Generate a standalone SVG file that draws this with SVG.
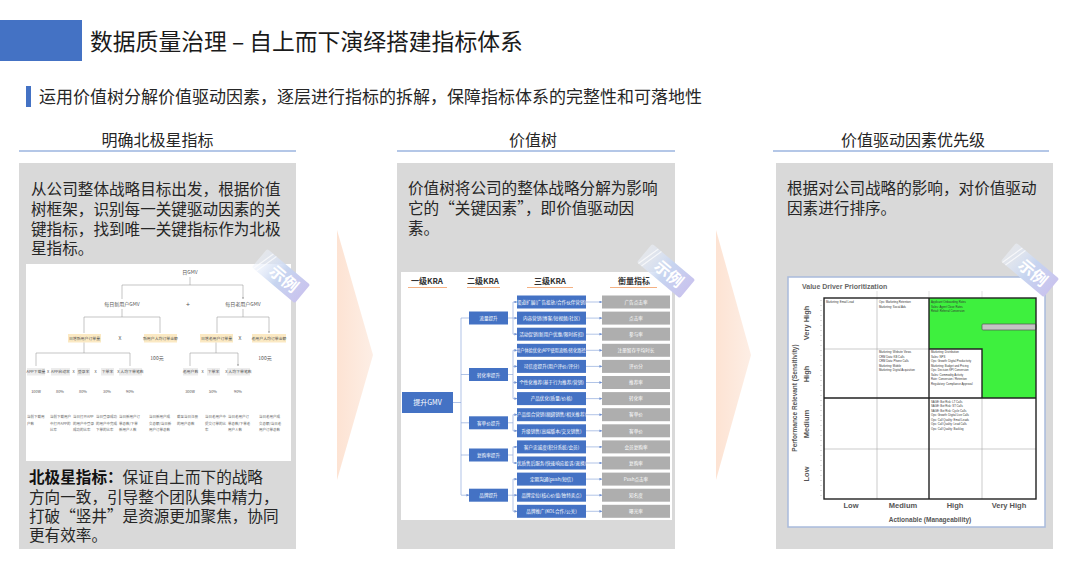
<svg xmlns="http://www.w3.org/2000/svg" width="1080" height="582" viewBox="0 0 1080 582">
<style>
text{font-family:"Noto Sans CJK SC","Noto Sans",sans-serif;fill:#262626}
.hd{font-size:16px;text-anchor:middle}
.body{font-size:15.6px}
.panel{fill:#d9d9d9}
.uline{stroke:#b4c7e7;stroke-width:2}
.t5{font-size:5px;text-anchor:middle;fill:#555}
.f{font-size:3.9px;text-anchor:middle;fill:#555}
.t4{font-size:3.5px;fill:#666}
.ln{stroke:#a0a0a0;stroke-width:0.6;fill:none}
.k1{font-size:8px;font-weight:bold;text-anchor:middle;fill:#333}
.kb{fill:#4472c4}
.kt{font-size:4.6px;fill:#fff;text-anchor:middle}
.mb{fill:#aeaeae}
.bl{stroke:#8faadc;stroke-width:0.7;fill:none}
.en{font-family:"Liberation Sans",Arial,sans-serif;font-weight:bold;fill:#555}
.ct{font-family:"Liberation Sans",Arial,sans-serif;font-size:2.8px;fill:#333}
.thin{stroke:#aaa;stroke-width:0.6}
.thick{stroke:#222;stroke-width:1.4;fill:none}
</style>
<defs>
<linearGradient id="arr" x1="0" y1="0" x2="1" y2="0">
<stop offset="0" stop-color="#fde3d3"/>
<stop offset="1" stop-color="#fdeee5"/>
</linearGradient>
<linearGradient id="bg" x1="0" y1="0" x2="1" y2="0">
<stop offset="0" stop-color="#eef3fc" stop-opacity="0.5"/>
<stop offset="0.5" stop-color="#c7d5f0"/>
<stop offset="1" stop-color="#c9c4ee"/>
</linearGradient>
<marker id="ah" viewBox="0 0 6 6" refX="5.5" refY="3" markerWidth="4" markerHeight="4" orient="auto">
<path d="M0,0 L6,3 L0,6 z" fill="#6f8fcf"/>
</marker>
<marker id="ag" viewBox="0 0 6 6" refX="5.5" refY="3" markerWidth="3" markerHeight="3" orient="auto">
<path d="M0,0 L6,3 L0,6 z" fill="#999"/>
</marker>
<g id="badge">
<rect x="-28" y="-12" width="56" height="24" rx="2" fill="url(#bg)"/>
<path d="M-20,-12 L-26,12 M-16,-12 L-22,12" stroke="#fff" stroke-width="1.2" opacity="0.7"/>
<text x="4" y="6" style="font-size:16px;fill:#fff;text-anchor:middle;font-weight:bold">示例</text>
</g>
</defs>

<rect width="1080" height="582" fill="#fff"/>

<g id="title">
<rect x="0" y="20" width="82" height="41" fill="#4472c4"/>
<text x="90" y="50" style="font-size:22.8px;fill:#1a1a1a">数据质量治理 – 自上而下演绎搭建指标体系</text>
</g>
<g id="subtitle">
<rect x="26" y="86" width="5" height="21" fill="#4472c4"/>
<text x="39" y="103" style="font-size:17px">运用价值树分解价值驱动因素，逐层进行指标的拆解，保障指标体系的完整性和可落地性</text>
</g>

<g id="h1"><text class="hd" x="157.5" y="146">明确北极星指标</text><line class="uline" x1="19" y1="151" x2="296" y2="151"/></g>
<g id="h2"><text class="hd" x="533" y="146">价值树</text><line class="uline" x1="397" y1="151" x2="675" y2="151"/></g>
<g id="h3"><text class="hd" x="913" y="146">价值驱动因素优先级</text><line class="uline" x1="773" y1="151" x2="1049" y2="151"/></g>

<g id="arrows">
<polygon points="337,230 373,355 337,480" fill="url(#arr)"/>
<polygon points="716,230 751,355 716,480" fill="url(#arr)"/>
</g>

<g id="panel-left">
<rect class="panel" x="19" y="163" width="277" height="386"/>
<text class="body" x="31" y="195">从公司整体战略目标出发，根据价值</text>
<text class="body" x="31" y="215">树框架，识别每一关键驱动因素的关</text>
<text class="body" x="31" y="234.5">键指标，找到唯一关键指标作为北极</text>
<text class="body" x="31" y="254">星指标。</text>
<rect x="26" y="264" width="265" height="197" fill="#fff"/>
<g id="gmv-tree">
<text class="t5" x="190" y="274">日GMV</text>
<path class="ln" d="M190,277 V285 M122,285 H243"/>
<path class="ln" d="M122,285 V299 M243,285 V299" marker-end="url(#ag)"/>
<text class="t5" x="122" y="306">每日新用户GMV</text>
<text class="t5" x="188" y="307" style="font-size:7px">+</text>
<text class="t5" x="243" y="306">每日老用户GMV</text>
<path class="ln" d="M122,309 V317 M84,317 H160 M243,309 V317 M217,317 H269"/>
<path class="ln" d="M84,317 V333 M160,317 V333 M217,317 V333 M269,317 V333" marker-end="url(#ag)"/>
<rect x="68" y="334" width="33" height="8.5" fill="#fbe9c3"/>
<rect x="144" y="334" width="33" height="8.5" fill="#fbe9c3"/>
<rect x="200" y="334" width="33" height="8.5" fill="#fbe9c3"/>
<rect x="252" y="334" width="34" height="8.5" fill="#fbe9c3"/>
<text class="f" x="84.5" y="340">日增新用户订单量</text>
<text class="t5" x="120" y="340">X</text>
<text class="f" x="160.5" y="340">新用户人均订单金额</text>
<text class="f" x="216.5" y="340">日增老用户订单量</text>
<text class="t5" x="240" y="340">X</text>
<text class="f" x="269" y="340">老用户人均订单金额</text>
<text class="t5" x="157" y="360">100元</text>
<text class="t5" x="265" y="360">100元</text>
<path class="ln" d="M84,342.5 V353 M36,353 H130 M216,342.5 V353 M190,353 H238"/>
<path class="ln" d="M36,353 V366 M130,353 V366 M190,353 V366 M238,353 V366" marker-end="url(#ag)"/>
<rect x="27" y="368" width="18" height="7.5" fill="#ececec"/>
<rect x="51" y="368" width="19" height="7.5" fill="#ececec"/>
<rect x="77" y="368" width="13" height="7.5" fill="#ececec"/>
<rect x="101" y="368" width="13" height="7.5" fill="#ececec"/>
<rect x="119" y="368" width="23" height="7.5" fill="#ececec"/>
<rect x="183" y="368" width="15" height="7.5" fill="#ececec"/>
<rect x="207" y="368" width="13" height="7.5" fill="#ececec"/>
<rect x="227" y="368" width="23" height="7.5" fill="#ececec"/>
<text class="f" x="36" y="373.3">APP下载量</text>
<text class="f" x="48" y="373.3">X</text>
<text class="f" x="60.5" y="373.3">APP启动率</text>
<text class="f" x="73.5" y="373.3">X</text>
<text class="f" x="83.5" y="373.3">登录率</text>
<text class="f" x="95.5" y="373.3">X</text>
<text class="f" x="107.5" y="373.3">下单率</text>
<text class="f" x="130.5" y="373.3">X 人均下单笔数</text>
<text class="f" x="190.5" y="373.3">老用户数</text>
<text class="f" x="202.5" y="373.3">X</text>
<text class="f" x="213.5" y="373.3">下单率</text>
<text class="f" x="238.5" y="373.3">X 人均下单笔数</text>
<text class="f" x="36" y="393">100w</text>
<text class="f" x="60" y="393">80%</text>
<text class="f" x="83" y="393">80%</text>
<text class="f" x="107" y="393">30%</text>
<text class="f" x="130" y="393">90%</text>
<text class="f" x="190" y="393">300w</text>
<text class="f" x="213" y="393">50%</text>
<text class="f" x="238" y="393">90%</text>
<text class="t4" x="27" y="418">当前下载用</text><text class="t4" x="27" y="424.5">户数</text>
<text class="t4" x="50" y="418">当前下载用户</text><text class="t4" x="50" y="424.5">中打开APP的</text><text class="t4" x="50" y="431">比率</text>
<text class="t4" x="73" y="418">当日打开APP</text><text class="t4" x="73" y="424.5">的用户中登录</text><text class="t4" x="73" y="431">成功的比率</text>
<text class="t4" x="96" y="418">当日登录成功</text><text class="t4" x="96" y="424.5">的用户中完成</text><text class="t4" x="96" y="431">下单的比率</text>
<text class="t4" x="119" y="418">当日新用户订</text><text class="t4" x="119" y="424.5">单总数/下单</text><text class="t4" x="119" y="431">新用户人数</text>
<text class="t4" x="149" y="418">当日新用户成</text><text class="t4" x="149" y="424.5">交总额/当日新</text><text class="t4" x="149" y="431">用户订单总数</text>
<text class="t4" x="177" y="418">截至当日注册</text><text class="t4" x="177" y="424.5">的用户总数</text>
<text class="t4" x="205" y="418">当日老用户中</text><text class="t4" x="205" y="424.5">提交订单的比</text><text class="t4" x="205" y="431">率</text>
<text class="t4" x="228" y="418">当日老用户订</text><text class="t4" x="228" y="424.5">单总数/下单老</text><text class="t4" x="228" y="431">用户人数</text>
<text class="t4" x="259" y="418">当日老用户成</text><text class="t4" x="259" y="424.5">交总额/当日老</text><text class="t4" x="259" y="431">用户订单总数</text>
</g>
<text class="body" x="29" y="483"><tspan font-weight="bold" fill="#111">北极星指标：</tspan>保证自上而下的战略</text>
<text class="body" x="29" y="502.5">方向一致，引导整个团队集中精力，</text>
<text class="body" x="29" y="521.5">打破“竖井”是资源更加聚焦，协同</text>
<text class="body" x="29" y="540.5">更有效率。</text>
<use href="#badge" transform="translate(281,276) rotate(40)"/>
</g>

<g id="panel-middle">
<rect class="panel" x="397" y="163" width="278" height="386"/>
<text class="body" x="408" y="194">价值树将公司的整体战略分解为影响</text>
<text class="body" x="408" y="214">它的“关键因素”，即价值驱动因</text>
<text class="body" x="408" y="234">素。</text>
<rect x="401" y="272" width="271" height="248" fill="#fff"/>
<g id="kra-headers">
<text class="k1" x="427" y="284">一级KRA</text>
<text class="k1" x="483" y="284">二级KRA</text>
<text class="k1" x="550" y="284">三级KRA</text>
<text class="k1" x="634" y="284">衡量指标</text>
<path d="M408,287.5 H447 M467,287.5 H500 M527,287.5 H573 M610,287.5 H657" stroke="#f4b183" stroke-width="1"/>
</g>
<g id="kra-connectors">
<path class="bl" d="M453,402.5 H461 M461,318 V495"/>
<path class="bl" d="M461,318 H469 M461,374.5 H469 M461,422.8 H469 M461,455 H469 M461,495.2 H469" marker-end="url(#ah)"/>
<path class="bl" d="M508,318 H513 M513,302 V334.2 M508,374.5 H513 M513,350.3 V398.6 M508,422.8 H513 M513,414.7 V430.8 M508,455 H513 M513,446.9 V463 M508,495.2 H513 M513,479.1 V511.3"/>
<g marker-end="url(#ah)">
<path class="bl" d="M513,302 H517"/><path class="bl" d="M513,318.1 H517"/><path class="bl" d="M513,334.2 H517"/>
<path class="bl" d="M513,350.3 H517"/><path class="bl" d="M513,366.4 H517"/><path class="bl" d="M513,382.5 H517"/><path class="bl" d="M513,398.6 H517"/>
<path class="bl" d="M513,414.7 H517"/><path class="bl" d="M513,430.8 H517"/>
<path class="bl" d="M513,446.9 H517"/><path class="bl" d="M513,463 H517"/>
<path class="bl" d="M513,479.1 H517"/><path class="bl" d="M513,495.2 H517"/><path class="bl" d="M513,511.3 H517"/>
<path class="bl" d="M586,302 H602"/><path class="bl" d="M586,318.1 H602"/><path class="bl" d="M586,334.2 H602"/>
<path class="bl" d="M586,350.3 H602"/><path class="bl" d="M586,366.4 H602"/><path class="bl" d="M586,382.5 H602"/><path class="bl" d="M586,398.6 H602"/>
<path class="bl" d="M586,414.7 H602"/><path class="bl" d="M586,430.8 H602"/>
<path class="bl" d="M586,446.9 H602"/><path class="bl" d="M586,463 H602"/>
<path class="bl" d="M586,479.1 H602"/><path class="bl" d="M586,495.2 H602"/><path class="bl" d="M586,511.3 H602"/>
</g>
</g>
<g id="kra-l1">
<rect class="kb" x="402" y="392" width="51" height="21"/>
<text class="kt" x="427.5" y="405" style="font-size:7px">提升GMV</text>
</g>
<g id="kra-l2">
<rect class="kb" x="469" y="311.5" width="39" height="13"/><text class="kt" x="488.5" y="320">流量提升</text>
<rect class="kb" x="469" y="368" width="39" height="13"/><text class="kt" x="488.5" y="376.5">转化率提升</text>
<rect class="kb" x="469" y="416.3" width="39" height="13"/><text class="kt" x="488.5" y="424.8">客单价提升</text>
<rect class="kb" x="469" y="448.5" width="39" height="13"/><text class="kt" x="488.5" y="457">复购率提升</text>
<rect class="kb" x="469" y="488.7" width="39" height="13"/><text class="kt" x="488.5" y="497.2">品牌提升</text>
</g>
<g id="kra-l3">
<rect class="kb" x="517" y="295.5" width="69" height="13"/><text class="kt" x="551.5" y="303.7">渠道扩展(广告投放/合作伙伴营销)</text>
<rect class="kb" x="517" y="311.6" width="69" height="13"/><text class="kt" x="551.5" y="319.8">内容营销(博客/短视频/社区)</text>
<rect class="kb" x="517" y="327.7" width="69" height="13"/><text class="kt" x="551.5" y="335.9">活动促销(新用户优惠/限时折扣)</text>
<rect class="kb" x="517" y="343.8" width="69" height="13"/><text class="kt" x="551.5" y="352" style="font-size:4.2px">用户体验优化(APP使用流畅/转化路径)</text>
<rect class="kb" x="517" y="359.9" width="69" height="13"/><text class="kt" x="551.5" y="368.1">可信度提升(用户评价/评分)</text>
<rect class="kb" x="517" y="376" width="69" height="13"/><text class="kt" x="551.5" y="384.2">个性化推荐(基于行为推荐/营销)</text>
<rect class="kb" x="517" y="392.1" width="69" height="13"/><text class="kt" x="551.5" y="400.3">产品优化(质量/价格)</text>
<rect class="kb" x="517" y="408.2" width="69" height="13"/><text class="kt" x="551.5" y="416.4">产品组合营销(捆绑销售/相关推荐)</text>
<rect class="kb" x="517" y="424.3" width="69" height="13"/><text class="kt" x="551.5" y="432.5">升级销售(高端版本/交叉销售)</text>
<rect class="kb" x="517" y="440.4" width="69" height="13"/><text class="kt" x="551.5" y="448.6">客户忠诚度(积分系统/会员)</text>
<rect class="kb" x="517" y="456.5" width="69" height="13"/><text class="kt" x="551.5" y="464.7">优质售后服务(快速响应投诉/退换)</text>
<rect class="kb" x="517" y="472.6" width="69" height="13"/><text class="kt" x="551.5" y="480.8">定期沟通(push/短信)</text>
<rect class="kb" x="517" y="488.7" width="69" height="13"/><text class="kt" x="551.5" y="496.9">品牌定位(核心价值/独特卖点)</text>
<rect class="kb" x="517" y="504.8" width="69" height="13"/><text class="kt" x="551.5" y="513">品牌推广(KOL合作/公关)</text>
</g>
<g id="kra-metrics">
<rect class="mb" x="602" y="295.5" width="68" height="13"/><text class="kt" x="636" y="303.7">广告点击率</text>
<rect class="mb" x="602" y="311.6" width="68" height="13"/><text class="kt" x="636" y="319.8">点击率</text>
<rect class="mb" x="602" y="327.7" width="68" height="13"/><text class="kt" x="636" y="335.9">参与率</text>
<rect class="mb" x="602" y="343.8" width="68" height="13"/><text class="kt" x="636" y="352">注册留存平均时长</text>
<rect class="mb" x="602" y="359.9" width="68" height="13"/><text class="kt" x="636" y="368.1">评价分</text>
<rect class="mb" x="602" y="376" width="68" height="13"/><text class="kt" x="636" y="384.2">推荐率</text>
<rect class="mb" x="602" y="392.1" width="68" height="13"/><text class="kt" x="636" y="400.3">转化率</text>
<rect class="mb" x="602" y="408.2" width="68" height="13"/><text class="kt" x="636" y="416.4">客单价</text>
<rect class="mb" x="602" y="424.3" width="68" height="13"/><text class="kt" x="636" y="432.5">客单价</text>
<rect class="mb" x="602" y="440.4" width="68" height="13"/><text class="kt" x="636" y="448.6">会员复购率</text>
<rect class="mb" x="602" y="456.5" width="68" height="13"/><text class="kt" x="636" y="464.7">复购率</text>
<rect class="mb" x="602" y="472.6" width="68" height="13"/><text class="kt" x="636" y="480.8">Push点击率</text>
<rect class="mb" x="602" y="488.7" width="68" height="13"/><text class="kt" x="636" y="496.9">知名度</text>
<rect class="mb" x="602" y="504.8" width="68" height="13"/><text class="kt" x="636" y="513">曝光率</text>
</g>
<use href="#badge" transform="translate(666,271) rotate(40)"/>
</g>

<g id="panel-right">
<rect class="panel" x="776" y="163" width="277" height="386"/>
<text class="body" x="787" y="194">根据对公司战略的影响，对价值驱动</text>
<text class="body" x="787" y="213.5">因素进行排序。</text>
<rect x="788" y="277" width="257" height="250" fill="#fff" stroke="#a9bbdc" stroke-width="1.5"/>
<g id="matrix">
<text class="en" x="802" y="289" style="font-size:7px;fill:#666">Value Driver Prioritization</text>
<path d="M877,291 V298 M929,291 V298 M982,291 V298" stroke="#ccc" stroke-width="0.6"/>
<line x1="821" y1="300" x2="821" y2="497" stroke="#aaa" stroke-width="1.5" stroke-dasharray="0.6 4.4"/>
<path d="M929,298 H1036 V398 H982 V349 H929 Z" fill="#3ef03e"/>
<path class="thin" d="M824,349 H929 M824,449 H1036 M877,298 V499 M982,398 V499"/>
<rect x="982" y="324" width="54" height="6" rx="1" fill="#c4c4c4" stroke="#555" stroke-width="0.7"/>
<rect class="thick" x="824" y="298" width="212" height="201"/>
<path class="thick" d="M824,398 H1036 M929,298 V499 M929,349 H982 V398"/>
<g id="cells">
<text class="ct" x="826" y="303">Marketing: Email Lead</text>
<text class="ct" x="879" y="303">Ops: Marketing Retention</text>
<text class="ct" x="879" y="307.5">Marketing: Social Ads</text>
<text class="ct" x="931" y="303">Applicant Onboarding Rates</text>
<text class="ct" x="931" y="307.5">Sales: Agent Close Rates</text>
<text class="ct" x="931" y="312">Retail: Referral Conversion</text>
<text class="ct" x="879" y="353">Marketing: Website Views</text>
<text class="ct" x="879" y="357.5">CRM Data: KB Calls</text>
<text class="ct" x="879" y="362">CRM Data: Phone Calls</text>
<text class="ct" x="879" y="366.5">Marketing: Mobile</text>
<text class="ct" x="879" y="371">Marketing: Digital Acquisition</text>
<text class="ct" x="931" y="353">Marketing: Distribution</text>
<text class="ct" x="931" y="357.5">Sales: NPS</text>
<text class="ct" x="931" y="362">Ops: Growth: Digital Productivity</text>
<text class="ct" x="931" y="366.5">Marketing: Budget and Pricing</text>
<text class="ct" x="931" y="371">Ops: Decision KPI Conversion</text>
<text class="ct" x="931" y="375.5">Sales: Commodity Activity</text>
<text class="ct" x="931" y="380">Rate: Conversion / Retention</text>
<text class="ct" x="931" y="384.5">Regulatory: Compliance Approval</text>
<text class="ct" x="931" y="402.5">SAGE: Bot Risk: LT Calls</text>
<text class="ct" x="931" y="407">SAGE: Bot Risk: ST Calls</text>
<text class="ct" x="931" y="411.5">SAGE: Bot Risk: Cycle Calls</text>
<text class="ct" x="931" y="416">Ops: Growth: Digital Live Calls</text>
<text class="ct" x="931" y="420.5">Ops: Call Quality: Email Leads</text>
<text class="ct" x="931" y="425">Ops: Call Quality: Lead Calls</text>
<text class="ct" x="931" y="429.5">Ops: Call Quality: Backlog</text>
</g>
<text class="en" transform="translate(809,323) rotate(-90)" text-anchor="middle" style="font-size:7.5px">Very High</text>
<text class="en" transform="translate(809,374) rotate(-90)" text-anchor="middle" style="font-size:7.5px">High</text>
<text class="en" transform="translate(809,424) rotate(-90)" text-anchor="middle" style="font-size:7.5px">Medium</text>
<text class="en" transform="translate(809,474) rotate(-90)" text-anchor="middle" style="font-size:7.5px">Low</text>
<text class="en" x="851" y="508" text-anchor="middle" style="font-size:7.5px">Low</text>
<text class="en" x="903" y="508" text-anchor="middle" style="font-size:7.5px">Medium</text>
<text class="en" x="955" y="508" text-anchor="middle" style="font-size:7.5px">High</text>
<text class="en" x="1009" y="508" text-anchor="middle" style="font-size:7.5px">Very High</text>
<text class="en" transform="translate(797,398) rotate(-90)" text-anchor="middle" style="font-size:6.5px">Performance Relevant (Sensitivity)</text>
<text class="en" x="930" y="522" text-anchor="middle" style="font-size:6.5px">Actionable (Manageability)</text>
</g>
<use href="#badge" transform="translate(1030,270) rotate(40)"/>
</g>
</svg>
